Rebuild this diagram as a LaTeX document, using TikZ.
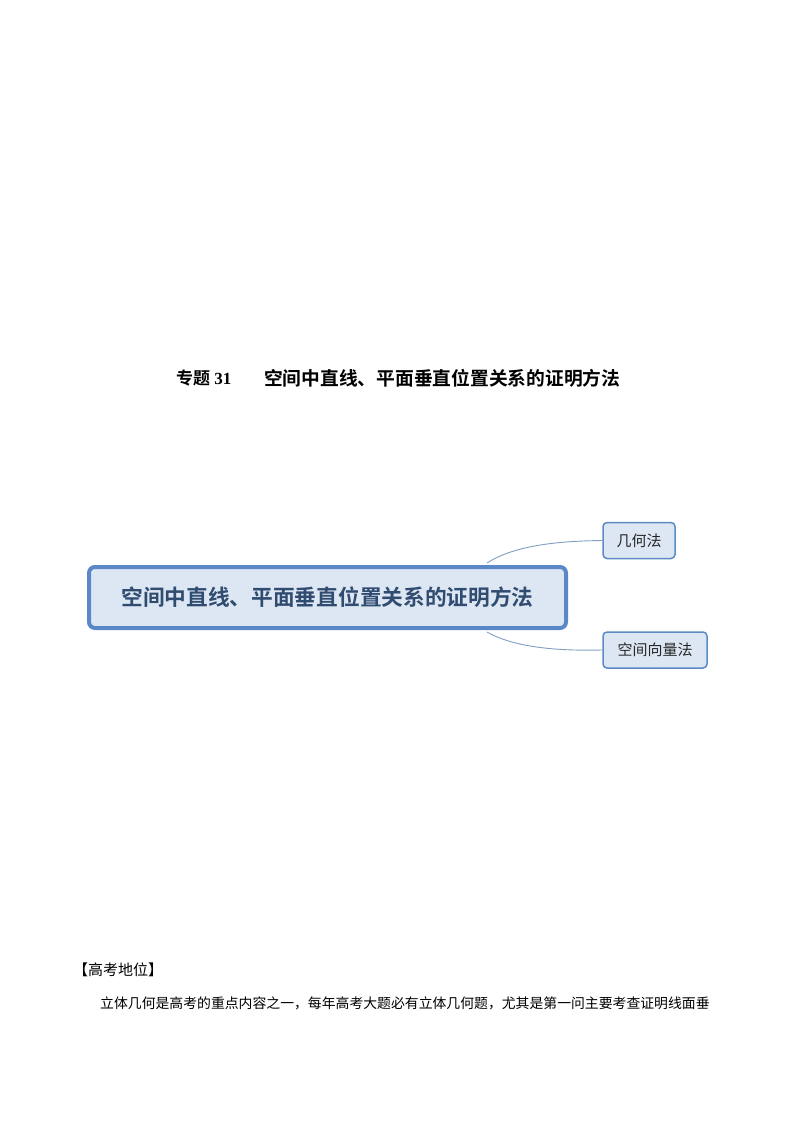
\documentclass[tikz,border=0pt]{standalone}
\usepackage{fontspec}
\setmainfont{Liberation Serif}
\newfontfamily\cjk{Noto Sans CJK SC}[BoldFont={Noto Sans CJK SC Bold}]
\definecolor{mainborder}{HTML}{5A88C6}
\definecolor{mainfill}{HTML}{DDE7F3}
\definecolor{maintext}{HTML}{304C70}
\definecolor{subborder}{HTML}{5B8AC5}
\definecolor{link}{HTML}{7F9EC4}
\begin{document}
\begin{tikzpicture}[x=1pt,y=-1pt,
  mainbox/.style={draw=mainborder,fill=mainfill,line width=4pt,rounded corners=6pt,minimum width=477pt,minimum height=61pt,inner sep=0pt,text=maintext,font=\cjk\bfseries\fontsize{21.7}{22}\selectfont},
  subbox/.style={draw=subborder,fill=mainfill,line width=1.5pt,rounded corners=4pt,minimum height=36pt,inner sep=0pt,text=black!85,font=\cjk\fontsize{15}{16}\selectfont},
  linkline/.style={draw=link,line width=0.9pt},
  plain/.style={anchor=west,inner sep=0pt,text=black}]
\useasboundingbox (0,0) rectangle (794,1123);
\node[plain,font=\bfseries\fontsize{17}{18}\selectfont] (t1) at (176,378) {{\cjk 专题} 31};
\node[plain,font=\cjk\bfseries\fontsize{18.75}{19}\selectfont] (t2) at (264,378) {空间中直线、平面垂直位置关系的证明方法};
\node[mainbox] (m) at (327.5,597.5) {空间中直线、平面垂直位置关系的证明方法};
\node[subbox,minimum width=72pt] (g) at (639,540.5) {几何法};
\node[subbox,minimum width=104pt] (v) at (655,650) {空间向量法};
\coordinate (c1) at (487,563);
\coordinate (c2) at (487,632);
\draw[linkline] (c1) .. controls (515,545) and (560,541) .. (g.west);
\draw[linkline] (c2) .. controls (515,648) and (560,651) .. (v.west);
\node[plain,font=\cjk\fontsize{15}{16}\selectfont] (h) at (73,970) {【高考地位】};
\node[plain,font=\cjk\fontsize{13.85}{15}\selectfont] (p) at (100,1003) {立体几何是高考的重点内容之一，每年高考大题必有立体几何题，尤其是第一问主要考查证明线面垂};
\end{tikzpicture}
\end{document}
